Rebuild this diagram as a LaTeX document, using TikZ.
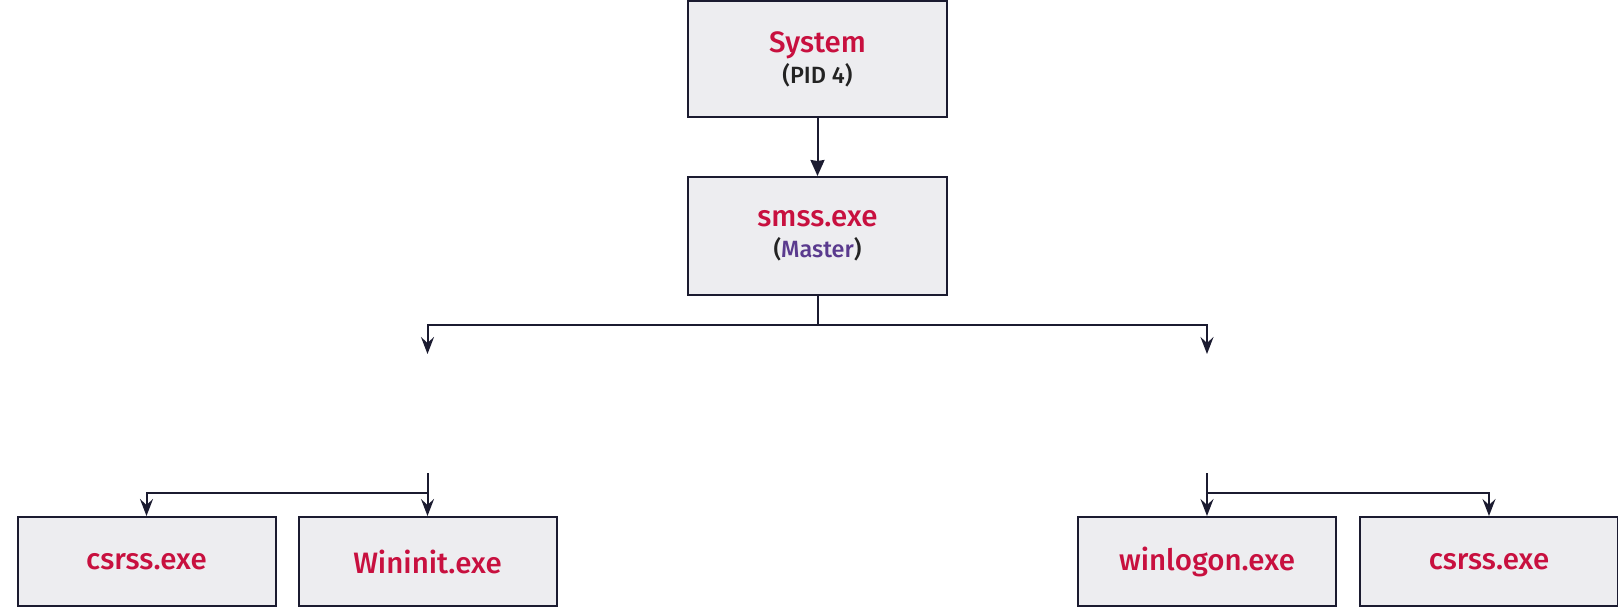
\documentclass[tikz,border=0pt]{standalone}
\usepackage{fontspec}
\setmainfont{Fira Sans Medium}
\usetikzlibrary{arrows.meta}
\definecolor{boxfill}{HTML}{EDEDF0}
\definecolor{boxline}{HTML}{1B1B30}
\definecolor{procred}{HTML}{C8103F}
\definecolor{masterpurple}{HTML}{5A3A8E}
\definecolor{subgrey}{HTML}{232323}
\newcommand{\subtxt}[1]{{\fontsize{23.5}{31}\selectfont #1}}
\begin{document}
\begin{tikzpicture}[x=1pt,y=-1pt,
  proc/.style={draw=boxline, line width=2pt, fill=boxfill, inner sep=0pt,
    align=center, text=procred, font=\fontsize{29.5}{31}\selectfont},
  topbox/.style={proc, minimum width=259pt, minimum height=116pt},
  lowbox/.style={proc, minimum width=258pt, minimum height=89pt},
  link/.style={draw=boxline, line width=2pt},
  filltip/.style={-{Stealth[length=16pt,width=14pt,inset=1pt]}},
  barbtip/.style={-{Stealth[length=17pt,width=13pt,inset=6pt]}}]
\useasboundingbox (0,0) rectangle (1618,614);
\fill[white] (0,0) rectangle (1618,614);

\node[topbox] (sys) at (817.5,59) {System\\\subtxt{\textcolor{subgrey}{(PID 4)}}};
\node[topbox, minimum height=118pt] (smss) at (817.5,236)
  {smss.exe\\\subtxt{\textcolor{subgrey}{(}\textcolor{masterpurple}{Master}\textcolor{subgrey}{)}}};

\node[lowbox] (csrssA) at (146.5,561.5) {csrss.exe};
\node[lowbox] (wininit) at (427.5,561.5) {Wininit.exe};
\node[lowbox] (winlogon) at (1207,561.5) {winlogon.exe};
\node[lowbox] (csrssB) at (1489,561.5) {csrss.exe};

\coordinate (jn) at (817.5,325);
\coordinate (dl) at (427.5,354);
\coordinate (dr) at (1207,354);
\coordinate (ul) at (427.5,473);
\coordinate (ur) at (1207,473);
\coordinate (hl) at (427.5,493);
\coordinate (hr) at (1207,493);

\draw[link, filltip] (sys.south) -- (smss.north);
\draw[link, barbtip] (smss.south) -- (jn) -| (dl);
\draw[link, barbtip] (jn) -| (dr);
\draw[link, barbtip] (ul) -- (wininit.north);
\draw[link, barbtip] (hl) -| (csrssA.north);
\draw[link, barbtip] (ur) -- (winlogon.north);
\draw[link, barbtip] (hr) -| (csrssB.north);
\end{tikzpicture}
\end{document}
